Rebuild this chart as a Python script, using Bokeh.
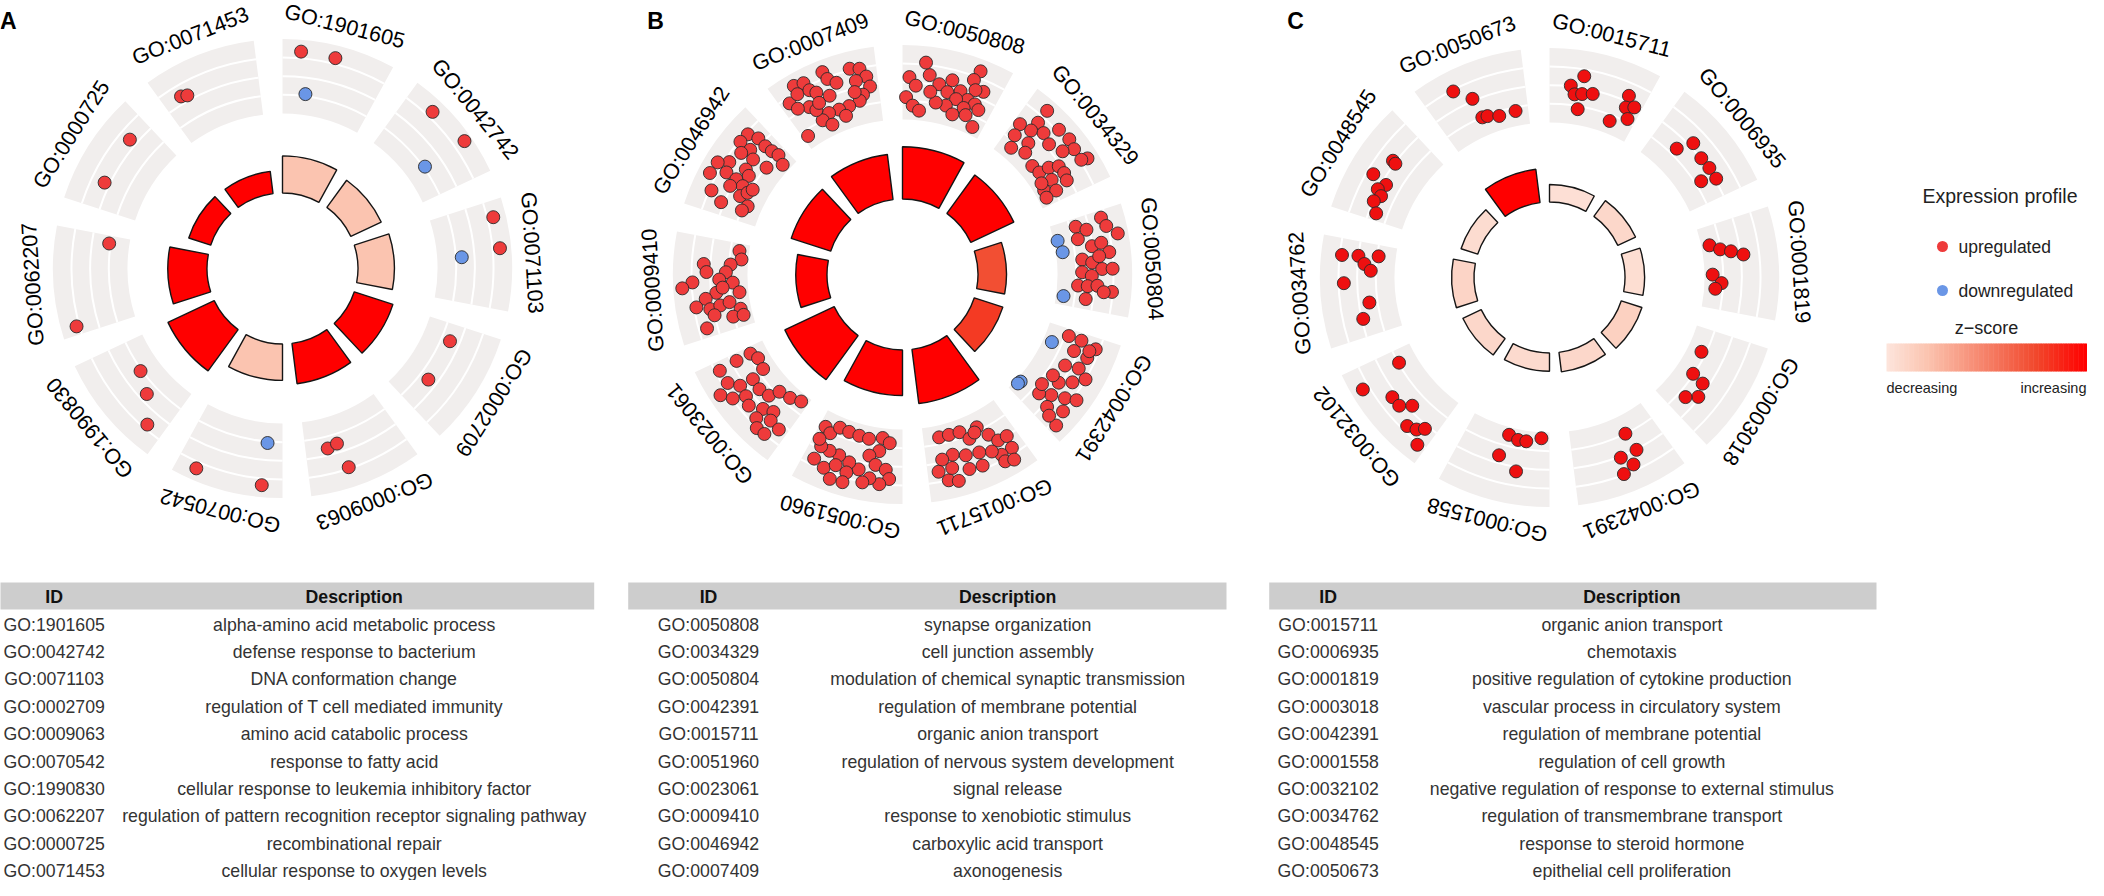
import numpy as np
from bokeh.plotting import figure
from bokeh.models import Range1d
from bokeh.embed import file_html
from bokeh.resources import INLINE
from bokeh.core.properties import value

# ---------------- data ----------------
A_ids = ["GO:1901605", "GO:0042742", "GO:0071103", "GO:0002709", "GO:0009063",
         "GO:0070542", "GO:1990830", "GO:0062207", "GO:0000725", "GO:0071453"]
A_desc = ["alpha-amino acid metabolic process", "defense response to bacterium",
          "DNA conformation change", "regulation of T cell mediated immunity",
          "amino acid catabolic process", "response to fatty acid",
          "cellular response to leukemia inhibitory factor",
          "regulation of pattern recognition receptor signaling pathway",
          "recombinational repair", "cellular response to oxygen levels"]
A_sig = [5.3, 4.8, 5.2, 5.8, 5.8, 5.2, 7.3, 5.6, 3.3, 3.2]      # -log10 adj. p
A_z = [0.2, 0.2, 0.2, 1.0, 1.0, 0.2, 1.0, 1.0, 1.0, 1.0]        # scaled z-score
A_up = [
    [(0.17, 0.84), (0.49, 0.83)],
    [(0.27, 0.83), (0.66, 0.90)],
    [(0.15, 0.83), (0.44, 0.85)],
    [(0.19, 0.37), (0.67, 0.38)],
    [(0.76, 0.41), (0.65, 0.38), (0.61, 0.73)],
    [(0.81, 0.84), (0.19, 0.84)],
    [(0.63, 0.27), (0.39, 0.40), (0.17, 0.69)],
    [(0.91, 0.27), (0.08, 0.79)],
    [(0.77, 0.60), (0.27, 0.57)],
    [(0.19, 0.60), (0.25, 0.57)],
]
A_down = [[(0.26, 0.28)], [(0.64, 0.27)], [(0.50, 0.33)], [], [], [(0.17, 0.27)], [], [], [], []]

B_ids = ["GO:0050808", "GO:0034329", "GO:0050804", "GO:0042391", "GO:0015711",
         "GO:0051960", "GO:0023061", "GO:0009410", "GO:0046942", "GO:0007409"]
B_desc = ["synapse organization", "cell junction assembly",
          "modulation of chemical synaptic transmission", "regulation of membrane potential",
          "organic anion transport", "regulation of nervous system development",
          "signal release", "response to xenobiotic stimulus",
          "carboxylic acid transport", "axonogenesis"]
B_sig = [7.46, 6.79, 4.07, 4.29, 7.79, 6.5, 7.79, 4.46, 5.93, 6.5]
B_z = [1.0, 1.0, 0.72, 0.80, 1.0, 1.0, 1.0, 1.0, 1.0, 1.0]
B_up = [
    [(0.73, 0.84), (0.50, 0.61), (0.70, 0.70), (0.38, 0.52), (0.83, 0.60), (0.75, 0.58), (0.61, 0.50),
     (0.48, 0.44), (0.71, 0.42), (0.59, 0.38), (0.80, 0.40), (0.50, 0.26), (0.70, 0.30), (0.86, 0.35),
     (0.60, 0.17), (0.75, 0.22), (0.88, 0.11), (0.38, 0.27), (0.07, 0.57), (0.14, 0.46), (0.04, 0.30),
     (0.12, 0.19), (0.20, 0.13), (0.27, 0.62), (0.30, 0.40), (0.22, 0.78)],
    [(0.07, 0.48), (0.19, 0.85), (0.20, 0.65), (0.10, 0.32), (0.20, 0.51), (0.39, 0.78), (0.31, 0.60),
     (0.16, 0.16), (0.27, 0.36), (0.43, 0.55), (0.52, 0.80), (0.62, 0.77), (0.76, 0.85), (0.74, 0.77),
     (0.57, 0.63), (0.32, 0.24), (0.49, 0.19), (0.60, 0.21), (0.62, 0.35), (0.67, 0.47), (0.76, 0.48),
     (0.84, 0.46), (0.75, 0.29), (0.81, 0.13), (0.88, 0.27), (0.90, 0.11), (0.72, 0.15)],
    [(0.09, 0.33), (0.15, 0.46), (0.07, 0.69), (0.16, 0.73), (0.25, 0.86), (0.23, 0.32), (0.33, 0.49),
     (0.31, 0.62), (0.41, 0.71), (0.46, 0.34), (0.50, 0.47), (0.57, 0.60), (0.57, 0.74), (0.60, 0.33),
     (0.64, 0.46), (0.75, 0.28), (0.75, 0.41), (0.74, 0.54), (0.79, 0.74), (0.89, 0.40), (0.80, 0.63),
     (0.44, 0.57)],
    [(0.08, 0.30), (0.08, 0.48), (0.11, 0.70), (0.21, 0.44), (0.22, 0.64), (0.39, 0.42), (0.35, 0.60),
     (0.58, 0.47), (0.50, 0.62), (0.73, 0.49), (0.67, 0.66), (0.41, 0.75), (0.15, 0.63), (0.92, 0.81),
     (0.85, 0.55), (0.80, 0.35), (0.90, 0.65), (0.78, 0.75), (0.62, 0.80), (0.55, 0.35), (0.70, 0.30)],
    [(0.81, 0.16), (0.69, 0.16), (0.56, 0.17), (0.48, 0.30), (0.27, 0.36), (0.21, 0.49), (0.11, 0.50),
     (0.13, 0.67), (0.25, 0.68), (0.32, 0.58), (0.44, 0.52), (0.58, 0.49), (0.71, 0.43), (0.83, 0.46),
     (0.89, 0.61), (0.81, 0.75), (0.72, 0.79), (0.59, 0.68), (0.46, 0.70), (0.25, 0.78), (0.17, 0.82),
     (0.75, 0.60), (0.35, 0.20), (0.40, 0.25)],
    [(0.93, 0.21), (0.85, 0.26), (0.77, 0.14), (0.65, 0.15), (0.52, 0.16), (0.40, 0.17), (0.24, 0.13),
     (0.15, 0.19), (0.26, 0.31), (0.36, 0.39), (0.28, 0.50), (0.17, 0.55), (0.13, 0.67), (0.22, 0.75),
     (0.32, 0.69), (0.44, 0.60), (0.55, 0.54), (0.67, 0.49), (0.78, 0.48), (0.88, 0.47), (0.89, 0.66),
     (0.77, 0.72), (0.67, 0.63), (0.55, 0.68), (0.38, 0.76), (0.68, 0.83), (0.56, 0.82), (0.93, 0.39)],
    [(0.92, 0.22), (0.83, 0.16), (0.92, 0.43), (0.91, 0.69), (0.77, 0.68), (0.68, 0.56), (0.66, 0.37),
     (0.69, 0.18), (0.56, 0.58), (0.53, 0.38), (0.41, 0.34), (0.36, 0.20), (0.22, 0.16), (0.09, 0.10),
     (0.71, 0.85), (0.62, 0.74), (0.47, 0.63), (0.35, 0.52), (0.25, 0.45), (0.33, 0.67), (0.26, 0.76),
     (0.21, 0.56), (0.09, 0.58), (0.17, 0.75)],
    [(0.91, 0.13), (0.81, 0.09), (0.74, 0.23), (0.65, 0.29), (0.73, 0.59), (0.65, 0.55), (0.55, 0.74),
     (0.50, 0.88), (0.57, 0.38), (0.53, 0.20), (0.41, 0.12), (0.43, 0.43), (0.38, 0.58), (0.31, 0.72),
     (0.27, 0.54), (0.29, 0.40), (0.31, 0.27), (0.21, 0.14), (0.14, 0.26), (0.13, 0.12), (0.09, 0.64),
     (0.48, 0.34), (0.20, 0.50)],
    [(0.84, 0.72), (0.88, 0.58), (0.74, 0.73), (0.87, 0.44), (0.88, 0.33), (0.74, 0.56), (0.90, 0.23),
     (0.85, 0.10), (0.66, 0.63), (0.68, 0.45), (0.70, 0.24), (0.55, 0.45), (0.52, 0.69), (0.46, 0.82),
     (0.34, 0.84), (0.42, 0.65), (0.41, 0.49), (0.51, 0.37), (0.38, 0.37), (0.32, 0.52), (0.27, 0.34),
     (0.20, 0.19), (0.13, 0.24), (0.20, 0.72), (0.13, 0.54), (0.34, 0.27), (0.40, 0.23)],
    [(0.21, 0.84), (0.30, 0.81), (0.09, 0.67), (0.20, 0.72), (0.32, 0.69), (0.37, 0.62), (0.50, 0.84),
     (0.52, 0.73), (0.48, 0.51), (0.59, 0.64), (0.75, 0.77), (0.84, 0.74), (0.89, 0.62), (0.91, 0.48),
     (0.78, 0.59), (0.82, 0.39), (0.77, 0.32), (0.64, 0.29), (0.52, 0.29), (0.40, 0.30), (0.30, 0.25),
     (0.38, 0.14), (0.57, 0.18), (0.24, 0.49), (0.06, 0.17), (0.29, 0.41), (0.13, 0.55), (0.74, 0.45),
     (0.35, 0.48)],
]
B_down = [[], [], [(0.20, 0.05), (0.35, 0.09), (0.89, 0.10)],
          [(0.22, 0.12), (0.84, 0.06), (0.88, 0.05)], [], [], [], [], [], []]

C_ids = ["GO:0015711", "GO:0006935", "GO:0001819", "GO:0003018", "GO:0042391",
         "GO:0001558", "GO:0032102", "GO:0034762", "GO:0048545", "GO:0050673"]
C_desc = ["organic anion transport", "chemotaxis", "positive regulation of cytokine production",
          "vascular process in circulatory system", "regulation of membrane potential",
          "regulation of cell growth", "negative regulation of response to external stimulus",
          "regulation of transmembrane transport", "response to steroid hormone",
          "epithelial cell proliferation"]
C_sig = [2.5, 2.8, 2.8, 3.1, 2.8, 2.6, 2.9, 3.2, 2.5, 4.8]
C_z = [0.03, 0.08, 0.04, 0.12, 0.08, 0.06, 0.08, 0.10, 0.05, 1.0]
C_up = [
    [(0.34, 0.66), (0.22, 0.51), (0.27, 0.40), (0.35, 0.42), (0.46, 0.45), (0.33, 0.21), (0.73, 0.17),
     (0.82, 0.58), (0.84, 0.42), (0.92, 0.47), (0.91, 0.29)],
    [(0.30, 0.35), (0.38, 0.56), (0.55, 0.51), (0.68, 0.52), (0.75, 0.33), (0.81, 0.52)],
    [(0.23, 0.11), (0.30, 0.24), (0.34, 0.38), (0.39, 0.54), (0.59, 0.11), (0.69, 0.23), (0.76, 0.15)],
    [(0.28, 0.19), (0.55, 0.24), (0.58, 0.42), (0.72, 0.48), (0.81, 0.35)],
    [(0.35, 0.25), (0.32, 0.51), (0.50, 0.52), (0.41, 0.67), (0.53, 0.74)],
    [(0.50, 0.10), (0.38, 0.14), (0.28, 0.14), (0.10, 0.08), (0.55, 0.40), (0.34, 0.56)],
    [(0.85, 0.24), (0.80, 0.84), (0.58, 0.57), (0.47, 0.57), (0.38, 0.44), (0.27, 0.68), (0.18, 0.63),
     (0.12, 0.55), (0.08, 0.78)],
    [(0.84, 0.72), (0.85, 0.50), (0.87, 0.23), (0.77, 0.41), (0.70, 0.32), (0.57, 0.68), (0.35, 0.36),
     (0.19, 0.48)],
    [(0.65, 0.54), (0.64, 0.49), (0.43, 0.66), (0.40, 0.44), (0.32, 0.51), (0.27, 0.43), (0.19, 0.49),
     (0.08, 0.40)],
    [(0.30, 0.73), (0.44, 0.53), (0.46, 0.25), (0.52, 0.24), (0.65, 0.19), (0.85, 0.20)],
]
C_down = [[] for _ in range(10)]

# ---------------- layout / style ----------------
IMG_H = 896
def Y(v):
    return IMG_H - v

FONT = value("Liberation Sans")
R_BAR_IN = 75.5
BAR_K = 7.0
R_RING_IN = 155.0
R_RING_OUT = 229.6
R_LABEL = 250.0
SPAN = 2 * np.pi / 10
FILL = 0.8
UP_AB = "#EE3B3B"
UP_C = "#EE1010"
DOWN = "#6A96E6"

anch_t = [0.0, 0.2, 0.75, 1.0]
anch_c = [(253, 228, 219), (251, 196, 176), (241, 72, 44), (255, 0, 0)]
def zcol(t):
    r = np.interp(t, anch_t, [c[0] for c in anch_c])
    g = np.interp(t, anch_t, [c[1] for c in anch_c])
    b = np.interp(t, anch_t, [c[2] for c in anch_c])
    return "#%02x%02x%02x" % (int(round(r)), int(round(g)), int(round(b)))

p = figure(width=2088, height=880, x_range=Range1d(8, 2096), y_range=Range1d(8, 888),
           output_backend="svg", toolbar_location=None, min_border=0)
p.axis.visible = False
p.grid.visible = False
p.outline_line_color = None
p.background_fill_color = "white"


def draw_circle(cx, cy_img, ids, sig, z, up, down, up_color):
    cy = Y(cy_img)
    n = len(ids)
    th0 = np.arange(n) * SPAN
    th1 = th0 + SPAN * FILL
    sa = list(np.pi / 2 - th1)
    ea = list(np.pi / 2 - th0)
    p.annular_wedge(x=cx, y=cy, inner_radius=R_RING_IN, outer_radius=R_RING_OUT,
                    start_angle=sa, end_angle=ea, fill_color="#F1EEED", line_color=None)
    ax, ay, ar, asa, aea = [], [], [], [], []
    for k in range(n):
        for f in (0.25, 0.5, 0.75):
            ax.append(cx); ay.append(cy)
            ar.append(R_RING_IN + f * (R_RING_OUT - R_RING_IN))
            asa.append(sa[k]); aea.append(ea[k])
    p.arc(x=ax, y=ay, radius=ar, start_angle=asa, end_angle=aea, line_color="white", line_width=2)
    outer = [R_BAR_IN + BAR_K * s for s in sig]
    p.annular_wedge(x=cx, y=cy, inner_radius=R_BAR_IN, outer_radius=outer,
                    start_angle=sa, end_angle=ea, fill_color=[zcol(t) for t in z],
                    line_color="#151515", line_width=1.4)
    for genes, col in ((down, DOWN), (up, up_color)):
        xs, ys = [], []
        for k in range(n):
            for (u, v) in genes[k]:
                th = th0[k] + u * SPAN * FILL
                r = R_RING_IN + v * (R_RING_OUT - R_RING_IN)
                xs.append(cx + r * np.sin(th)); ys.append(cy + r * np.cos(th))
        if xs:
            p.scatter(x=xs, y=ys, size=13, fill_color=col, line_color="#2a2a2a", line_width=0.9)
    thc = th0 + SPAN * FILL / 2
    p.text(x=list(cx + R_LABEL * np.sin(thc)), y=list(cy + R_LABEL * np.cos(thc)), text=ids,
           angle=list(-thc), text_align="center", text_baseline="middle",
           text_font=FONT, text_font_size="21.5px", text_color="black")


ROW0 = 632.0
ROWD = 27.4
TFS = "17.7px"


def draw_table(x0, x1, c1w, ids, desc):
    p.quad(left=x0, right=x1, top=Y(590), bottom=Y(617), fill_color="#CDCDCD", line_color=None)
    c1 = x0 + c1w / 2
    c2 = (x0 + c1w + x1) / 2
    p.text(x=[c1, c2], y=[Y(604), Y(604)], text=["ID", "Description"], text_align="center",
           text_baseline="middle", text_font=FONT, text_font_style="bold",
           text_font_size=TFS, text_color="#111111")
    ys = [Y(ROW0 + ROWD * i) for i in range(len(ids))]
    p.text(x=[c1] * len(ids), y=ys, text=ids, text_align="center", text_baseline="middle",
           text_font=FONT, text_font_size=TFS, text_color="#333333")
    p.text(x=[c2] * len(desc), y=ys, text=desc, text_align="center", text_baseline="middle",
           text_font=FONT, text_font_size=TFS, text_color="#333333")


draw_circle(290, 276, A_ids, A_sig, A_z, A_up, A_down, UP_AB)
draw_circle(910, 282, B_ids, B_sig, B_z, B_up, B_down, UP_AB)
draw_circle(1557, 285, C_ids, C_sig, C_z, C_up, C_down, UP_C)

draw_table(1.7, 601.7, 120, A_ids, A_desc)
draw_table(635.7, 1234, 160.6, B_ids, B_desc)
draw_table(1276.7, 1884, 118, C_ids, C_desc)

p.text(x=[15.8, 663, 1303], y=[Y(28.3)] * 3, text=["A", "B", "C"], text_align="center",
       text_baseline="middle", text_font=FONT, text_font_style="bold", text_font_size="23px",
       text_color="black")

# legend
p.text(x=[1930], y=[Y(203)], text=["Expression profile"], text_align="left", text_baseline="middle",
       text_font=FONT, text_font_size="19.5px", text_color="#222222")
p.scatter(x=[1950, 1950], y=[Y(254), Y(298)], size=11, fill_color=[UP_AB, DOWN],
          line_color=None)
p.text(x=[1966, 1966], y=[Y(254), Y(298)], text=["upregulated", "downregulated"], text_align="left",
       text_baseline="middle", text_font=FONT, text_font_size="17.5px", text_color="#222222")
nb = 120
bx0, bx1 = 1894.0, 2094.0
p.text(x=[(bx0 + bx1) / 2], y=[Y(335)], text=["z\u2212score"], text_align="center",
       text_baseline="middle", text_font=FONT, text_font_size="18px", text_color="#222222")
edges = np.linspace(bx0, bx1, nb + 1)
p.quad(left=list(edges[:-1]), right=list(edges[1:] + 0.5), top=Y(351), bottom=Y(379),
       fill_color=[zcol(t) for t in np.linspace(0, 1, nb)], line_color=None)
p.text(x=[bx0, bx1], y=[Y(395), Y(395)], text=["decreasing", "increasing"],
       text_align=["left", "right"], text_baseline="middle", text_font=FONT,
       text_font_size="14.5px", text_color="#222222")

open("out.html", "w").write(file_html(p, INLINE, title="GO circle"))
